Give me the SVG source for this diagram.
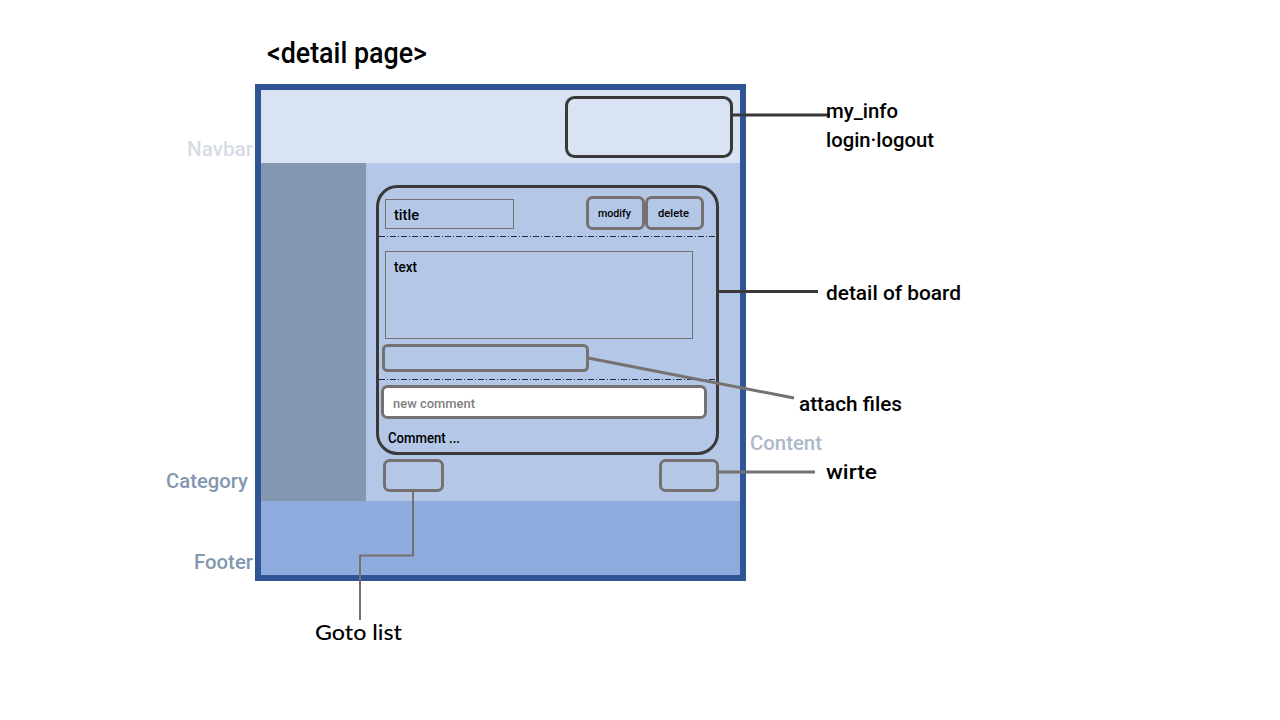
<svg xmlns="http://www.w3.org/2000/svg" width="1280" height="720" viewBox="0 0 1280 720">
  <style>
    .t { font-family: Roboto, "DejaVu Sans Condensed", "Liberation Sans", sans-serif; font-weight: 500; }
    .lbl { font-size: 21px; fill: #000; }
    .area { font-size: 21px; }
    .btn { fill: none; stroke: #767171; stroke-width: 3; }
    .dash { stroke: #1f2d4a; stroke-width: 1; stroke-dasharray: 6 2 1 2; }
    .thin { fill: none; stroke: #767171; stroke-width: 1; }
  </style>

  <rect width="1280" height="720" fill="#ffffff"/>

  <text class="t" x="267" y="63" font-size="29" fill="#000" textLength="160" lengthAdjust="spacingAndGlyphs">&lt;detail page&gt;</text>

  <!-- page frame and layout regions -->
  <g id="page">
    <rect x="258" y="87" width="485" height="491" fill="#DAE3F3"/>
    <rect x="261" y="163" width="105" height="338" fill="#8497B0"/>
    <rect x="366" y="163" width="374" height="338" fill="#B4C7E7"/>
    <rect x="261" y="501" width="479" height="74" fill="#8FAADC"/>
  </g>

  <g id="area-labels" class="t area">
    <text x="187" y="156" fill="#D6DCE5" textLength="66" lengthAdjust="spacingAndGlyphs">Navbar</text>
    <text x="166" y="488" fill="#8497B0" textLength="82" lengthAdjust="spacingAndGlyphs">Category</text>
    <text x="194" y="569" fill="#8497B0" textLength="59" lengthAdjust="spacingAndGlyphs">Footer</text>
    <text x="750" y="450" fill="#ADB9CA" textLength="72" lengthAdjust="spacingAndGlyphs">Content</text>
  </g>

  <g id="frame">
    <rect x="258" y="87" width="485" height="491" fill="none" stroke="#2F5597" stroke-width="6"/>
  </g>

  <g id="my-info">
    <rect x="566.5" y="97.5" width="165" height="59" rx="8" fill="none" stroke="#3A3838" stroke-width="3"/>
  </g>

  <g id="board">
    <rect x="377.5" y="186.5" width="340" height="267" rx="20" fill="none" stroke="#3A3838" stroke-width="3"/>
    <line class="dash" x1="379" y1="236.5" x2="716" y2="236.5"/>
    <line class="dash" x1="379" y1="379.5" x2="716" y2="379.5"/>
  </g>

  <g id="title">
    <rect class="thin" x="385.5" y="199.5" width="128" height="29"/>
    <text class="t" x="394" y="220" font-size="15" fill="#000" textLength="25" lengthAdjust="spacingAndGlyphs">title</text>
  </g>

  <g id="modify">
    <rect class="btn" x="587.5" y="197.5" width="56" height="31" rx="5"/>
    <text class="t" x="598" y="217" font-size="11.5" fill="#000" textLength="33" lengthAdjust="spacingAndGlyphs">modify</text>
  </g>

  <g id="delete">
    <rect class="btn" x="646.5" y="197.5" width="56" height="31" rx="5"/>
    <text class="t" x="658" y="217" font-size="11.5" fill="#000" textLength="31" lengthAdjust="spacingAndGlyphs">delete</text>
  </g>

  <g id="text">
    <rect class="thin" x="385.5" y="251.5" width="307" height="87"/>
    <text class="t" x="394" y="272" font-size="14" fill="#000" textLength="23" lengthAdjust="spacingAndGlyphs">text</text>
  </g>

  <g id="attach">
    <rect class="btn" x="383.5" y="345.5" width="204" height="25" rx="4"/>
  </g>

  <g id="new-comment">
    <rect x="382.5" y="386.5" width="323" height="31" rx="5" fill="#ffffff" stroke="#767171" stroke-width="3"/>
    <text class="t" x="393" y="408" font-size="13.5" fill="#7F7F7F" textLength="82" lengthAdjust="spacingAndGlyphs">new comment</text>
  </g>

  <g id="comment">
    <text class="t" x="388" y="443" font-size="14" fill="#000" textLength="72" lengthAdjust="spacingAndGlyphs">Comment ...</text>
  </g>

  <g id="goto-btn">
    <rect class="btn" x="384.5" y="460.5" width="58" height="30" rx="5"/>
  </g>

  <g id="write-btn">
    <rect class="btn" x="660.5" y="460.5" width="57" height="30" rx="5"/>
  </g>

  <!-- callout lines -->
  <g id="connectors" fill="none">
    <line x1="732" y1="115" x2="830" y2="115" stroke="#3A3838" stroke-width="3"/>
    <line x1="718" y1="291.5" x2="818" y2="291.5" stroke="#3A3838" stroke-width="3"/>
    <line x1="588" y1="358" x2="794" y2="398" stroke="#767171" stroke-width="3"/>
    <line x1="718" y1="472" x2="815" y2="472" stroke="#767171" stroke-width="3"/>
    <polyline points="413,490 413,555.5 360,555.5 360,620" stroke="#767171" stroke-width="2"/>
  </g>

  <g id="callout-labels" class="t lbl">
    <text x="826" y="118" textLength="72" lengthAdjust="spacingAndGlyphs">my_info</text>
    <text x="826" y="147" textLength="108" lengthAdjust="spacingAndGlyphs">login·logout</text>
    <text x="826" y="300" textLength="135" lengthAdjust="spacingAndGlyphs">detail of board</text>
    <text x="799" y="411" textLength="103" lengthAdjust="spacingAndGlyphs">attach files</text>
    <text x="826" y="479" textLength="51" lengthAdjust="spacingAndGlyphs">wirte</text>
  </g>
  <text x="315" y="640" font-family="Lato, 'Noto Sans', sans-serif" font-weight="500" font-size="21" fill="#000" textLength="87" lengthAdjust="spacingAndGlyphs">Goto list</text>
</svg>
